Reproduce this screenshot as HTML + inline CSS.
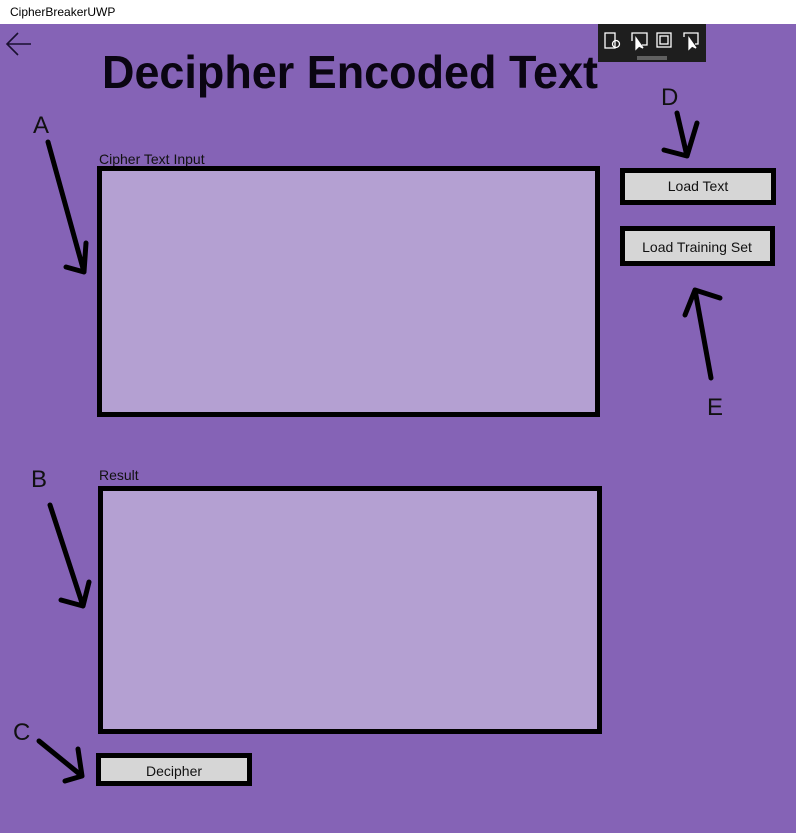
<!DOCTYPE html>
<html><head><meta charset="utf-8"><style>
html,body{margin:0;padding:0;width:796px;height:833px;overflow:hidden;background:#8563b6;}
svg{display:block}
text{font-family:"Liberation Sans",sans-serif;}
</style></head><body>
<svg width="796" height="833" viewBox="0 0 796 833" xmlns="http://www.w3.org/2000/svg">
<rect x="0" y="0" width="796" height="24" fill="#fff"/>
<text x="10" y="13" font-size="12" fill="#000" dominant-baseline="middle">CipherBreakerUWP</text>
<rect x="0" y="24" width="796" height="809" fill="#8563b6"/>
<!-- back arrow -->
<g stroke="#1a1030" stroke-width="1.6" fill="none"><path d="M31 44 H8 M18 33 L7 44 L18 55"/></g>
<!-- title -->
<text x="102" y="88" font-size="46" font-weight="bold" fill="#0a0512" textLength="496" lengthAdjust="spacingAndGlyphs">Decipher Encoded Text</text>
<!-- toolbar -->
<rect x="598" y="24" width="108" height="38" fill="#1e1e1e"/>
<g stroke="#fff" stroke-width="1.3" fill="none">
<rect x="605" y="33" width="10" height="15"/><circle cx="616" cy="44" r="3.5"/>
<path d="M632 41 V33 H647 V45 H642"/><path d="M636 38 L636 49 L639 46 L643 48 Z" fill="#fff"/>
<rect x="657" y="33" width="14" height="14"/><rect x="660" y="36" width="8" height="8"/>
<path d="M684 37 V33 H698 V44 H695"/><path d="M689 38 L689 49 L692 46 L696 48 Z" fill="#fff"/>
<path d="M637 57 H667 M637 59 H667" stroke="#888"/>
</g>
<!-- labels -->
<text x="99" y="164" font-size="14" fill="#111">Cipher Text Input</text>
<text x="99" y="480" font-size="14" fill="#111">Result</text>
<!-- boxes -->
<rect x="99.5" y="168.5" width="498" height="246" fill="#b4a0d2" stroke="#000" stroke-width="5"/>
<rect x="100.5" y="488.5" width="499" height="243" fill="#b4a0d2" stroke="#000" stroke-width="5"/>
<!-- buttons -->
<rect x="622.5" y="170.5" width="151" height="32" fill="#d6d6d6" stroke="#000" stroke-width="5"/>
<text x="698" y="191" font-size="14" fill="#111" text-anchor="middle">Load Text</text>
<rect x="622.5" y="228.5" width="150" height="35" fill="#d6d6d6" stroke="#000" stroke-width="5"/>
<text x="697" y="252" font-size="14" fill="#111" text-anchor="middle">Load Training Set</text>
<rect x="98.5" y="755.5" width="151" height="28" fill="#d6d6d6" stroke="#000" stroke-width="5"/>
<text x="174" y="776" font-size="14" fill="#111" text-anchor="middle">Decipher</text>
<!-- letters -->
<g font-size="24" fill="#111">
<text x="33" y="133">A</text>
<text x="31" y="487">B</text>
<text x="13" y="740">C</text>
<text x="661" y="105">D</text>
<text x="707" y="415">E</text>
</g>
<!-- arrows -->
<g stroke="#000" stroke-width="5" stroke-linecap="round" stroke-linejoin="round" fill="none">
<path d="M48 142 L84 272 M66 267 L84 272 L86 243"/>
<path d="M50 505 L83 606 M61 600 L83 606 L89 582"/>
<path d="M39 741 L82 776 M65 781 L82 776 L78 749"/>
<path d="M677 113 L687 156 M664 150 L687 156 L697 123"/>
<path d="M711 378 L695 290 M685 315 L695 290 L720 298"/>
</g>
</svg>
</body></html>
